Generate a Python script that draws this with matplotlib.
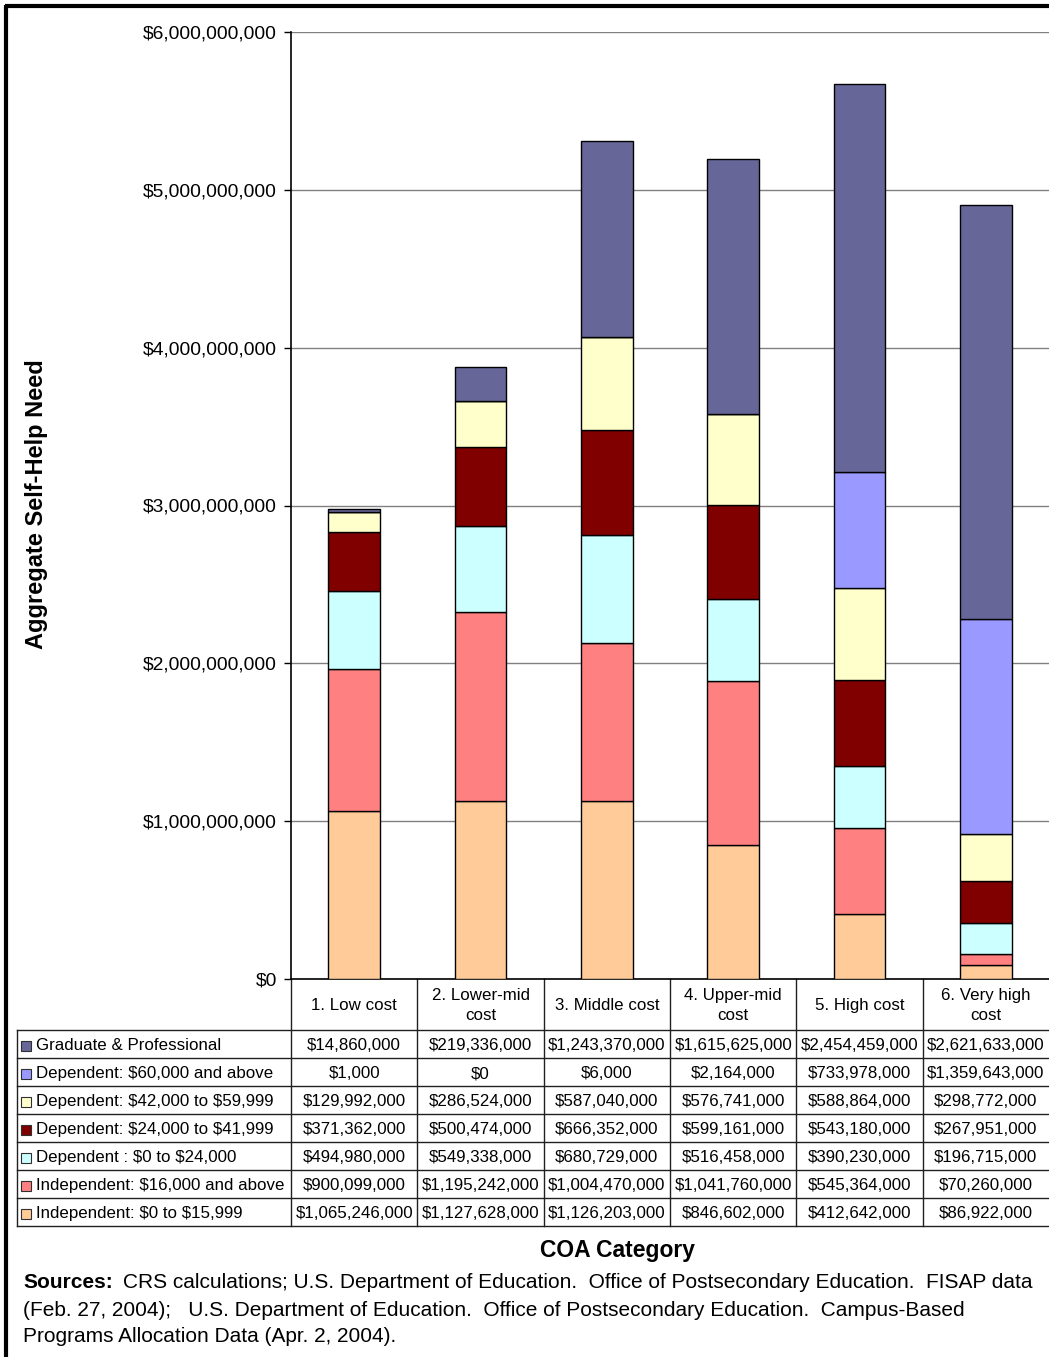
import matplotlib
matplotlib.use('Agg')
import matplotlib.pyplot as plt
from matplotlib.patches import Rectangle
from matplotlib.ticker import FuncFormatter

plt.rcParams['font.family'] = ['Liberation Sans', 'DejaVu Sans']
plt.rcParams['text.parse_math'] = False

# data (values in dollars), stacked bottom -> top
categories = ['1. Low cost', '2. Lower-mid\ncost', '3. Middle cost',
              '4. Upper-mid\ncost', '5. High cost', '6. Very high\ncost']

series_names = ['Independent: $0 to $15,999',
                'Independent: $16,000 and above',
                'Dependent : $0 to $24,000',
                'Dependent: $24,000 to $41,999',
                'Dependent: $42,000 to $59,999',
                'Dependent: $60,000 and above',
                'Graduate & Professional']

indep_low = [1065246000, 1127628000, 1126203000, 846602000, 412642000, 86922000]
indep_high = [900099000, 1195242000, 1004470000, 1041760000, 545364000, 70260000]
dep_0_24 = [494980000, 549338000, 680729000, 516458000, 390230000, 196715000]
dep_24_42 = [371362000, 500474000, 666352000, 599161000, 543180000, 267951000]
dep_42_60 = [129992000, 286524000, 587040000, 576741000, 588864000, 298772000]
dep_60 = [1000, 0, 6000, 2164000, 733978000, 1359643000]
graduate = [14860000, 219336000, 1243370000, 1615625000, 2454459000, 2621633000]

series_values = [indep_low, indep_high, dep_0_24, dep_24_42, dep_42_60, dep_60, graduate]
colors = ['#FFCC99', '#FF8080', '#CCFFFF', '#800000', '#FFFFCC', '#9999FF', '#666699']

W, H = 1049, 1357
fig = plt.figure(figsize=(W / 100, H / 100), dpi=100)

# overlay axes in pixel coordinates for border, table and notes
bg = fig.add_axes([0, 0, 1, 1])
bg.set_xlim(0, W)
bg.set_ylim(H, 0)
bg.axis('off')

# frame (left and top only, as in the original)
bg.plot([6, 6], [5, H], color='black', lw=3, solid_capstyle='butt')
bg.plot([5, W], [6, 6], color='black', lw=3, solid_capstyle='butt')

# main chart
left, right, top, bottom = 291, 1049, 32, 979
ax = fig.add_axes([left / W, 1 - bottom / H, (right - left) / W, (bottom - top) / H])
ax.set_facecolor('none')

x = range(len(categories))
base = [0] * len(categories)
for vals, col in zip(series_values, colors):
    ax.bar(x, vals, width=0.41, bottom=base, color=col, edgecolor='black', linewidth=1, zorder=3)
    base = [b + v for b, v in zip(base, vals)]

ax.set_xlim(-0.5, len(categories) - 0.5)
ax.set_ylim(0, 6000000000)
ax.set_yticks(range(0, 6000000001, 1000000000))
ax.yaxis.set_major_formatter(FuncFormatter(lambda v, p: '${:,.0f}'.format(v)))
ax.tick_params(axis='y', labelsize=13.9, length=5, width=1, pad=5)
ax.set_xticks([])
ax.grid(axis='y', color='#808080', linewidth=1, zorder=0)
for s in ['top', 'right']:
    ax.spines[s].set_visible(False)
ax.spines['left'].set_linewidth(1.2)
ax.spines['bottom'].set_linewidth(1.2)

bg.text(37, 504, 'Aggregate Self-Help Need', rotation=90, fontsize=17,
        fontweight='bold', ha='center', va='center')

# data table
col_w = (right - left) / len(categories)
col_edges = [left + i * col_w for i in range(len(categories) + 1)]
head_bot = 1030
row_h = 28
n_rows = len(series_names)
tab_bot = head_bot + n_rows * row_h
tab_left = 17
lc = '#202020'

for xe in col_edges[:-1]:
    bg.plot([xe, xe], [bottom, tab_bot], color=lc, lw=1)
bg.plot([tab_left, tab_left], [head_bot, tab_bot], color=lc, lw=1)
for r in range(n_rows + 1):
    yy = head_bot + r * row_h
    bg.plot([tab_left, W], [yy, yy], color=lc, lw=1)

for i, cat in enumerate(categories):
    bg.text(left + (i + 0.5) * col_w, (bottom + head_bot) / 2 + 1, cat, ha='center',
            va='center', fontsize=12.2, linespacing=1.45)

rows_top_down = list(range(n_rows))[::-1]
for r, si in enumerate(rows_top_down):
    yc = head_bot + (r + 0.5) * row_h + 1.5
    bg.add_patch(Rectangle((21, yc - 5), 10, 10, facecolor=colors[si], edgecolor='#303030', lw=0.8))
    bg.text(36, yc, series_names[si], ha='left', va='center', fontsize=12.2)
    for i, v in enumerate(series_values[si]):
        bg.text(left + (i + 0.5) * col_w, yc, '${:,.0f}'.format(v), ha='center',
                va='center', fontsize=12.2)

bg.text(618, 1251, 'COA Category', ha='center', va='center', fontsize=16.5, fontweight='bold')

# sources note
fs = 15
t = bg.text(23, 1283, 'Sources:', ha='left', va='center', fontsize=fs, fontweight='bold')
fig.canvas.draw()
bb = t.get_window_extent(renderer=fig.canvas.get_renderer())
bg.text(23 + bb.width + 10, 1283,
        'CRS calculations; U.S. Department of Education.  Office of Postsecondary Education.  FISAP data',
        ha='left', va='center', fontsize=fs)
bg.text(23, 1310,
        '(Feb. 27, 2004);   U.S. Department of Education.  Office of Postsecondary Education.  Campus-Based',
        ha='left', va='center', fontsize=fs)
bg.text(23, 1337, 'Programs Allocation Data (Apr. 2, 2004).', ha='left', va='center', fontsize=fs)

fig.savefig('out.png', dpi=100)
